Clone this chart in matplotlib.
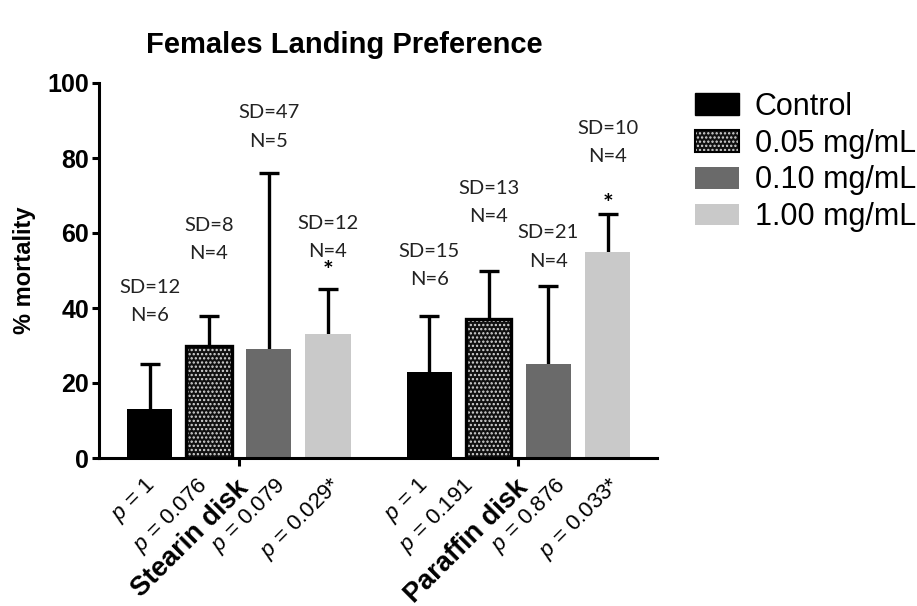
import numpy as np
import matplotlib
matplotlib.use('Agg')
import matplotlib.pyplot as plt
from matplotlib.patches import Patch
from matplotlib.legend_handler import HandlerTuple
from matplotlib.transforms import offset_copy

plt.rcParams['font.family'] = ['Liberation Sans', 'DejaVu Sans']
plt.rcParams['mathtext.fontset'] = 'custom'
plt.rcParams['mathtext.it'] = 'Liberation Sans:italic'
plt.rcParams['mathtext.rm'] = 'Liberation Sans'
plt.rcParams['hatch.linewidth'] = 1.1

# data
groups = ['Stearin disk', 'Paraffin disk']
treatments = ['Control', '0.05 mg/mL', '0.10 mg/mL', '1.00 mg/mL']
mortality = [13, 30, 29, 33, 23, 37, 25, 55]
sd = [12, 8, 47, 12, 15, 13, 21, 10]
n_obs = [6, 4, 5, 4, 6, 4, 4, 4]
p_values = ['1', '0.076', '0.079', '0.029*', '1', '0.191', '0.876', '0.033*']
significant = [False, False, False, True, False, False, False, True]
# where the SD/N text and the stars sit (y, % mortality)
sd_text_y = [45.5, 62, 92, 62.5, 55, 72, 60, 88]
star_y = [None, None, None, 49.7, None, None, None, 67.5]
# sideways nudge of each p label, in pixels
p_nudge = [2, -4, 14, 10, -4, -18, 15, 10]

colors = ['black', '#111111', '#6a6a6a', '#c9c9c9']

fig = plt.figure(figsize=(9.17, 6.06), dpi=100)
ax = fig.add_axes([99 / 917, 148 / 606, 558 / 917, 375 / 606])

x = np.concatenate([np.arange(4), np.arange(4) + 4.7])
w = 0.76

for i, (xi, m, s) in enumerate(zip(x, mortality, sd)):
    k = i % 4
    if k == 1:
        ax.bar(xi, m, w, color=colors[k], edgecolor='#d8d8d8', linewidth=0,
               hatch='....', zorder=2)
        ax.bar(xi, m, w, fill=False, edgecolor='black', linewidth=2.4, zorder=3)
    else:
        ax.bar(xi, m, w, color=colors[k], linewidth=0, zorder=2)
    eb = ax.errorbar(xi, m, yerr=[[0], [s]], fmt='none', ecolor='black',
                     elinewidth=2.4, capsize=7, capthick=2.4, zorder=1)
    # hide the cap sitting on top of the bar
    for cap in eb[1]:
        if np.allclose(cap.get_ydata(), m):
            cap.set_visible(False)
    ax.text(xi, sd_text_y[i], f'SD={s}', ha='center', va='center',
            fontsize=14.5, family='Lato', color='#222222')
    ax.text(xi, sd_text_y[i] - 7.5, f'N={n_obs[i]}', ha='center', va='center',
            fontsize=14.5, family='Lato', color='#222222')
    if significant[i]:
        ax.text(xi, star_y[i], '*', ha='center', va='center',
                fontsize=18, fontweight='bold', family='Lato')
    t = offset_copy(ax.transData, fig=fig, x=p_nudge[i], y=-24, units='dots')
    ax.text(xi, 0, f'$p$ = {p_values[i]}', transform=t, rotation=45,
            ha='right', va='center', rotation_mode='anchor', fontsize=16)

ax.set_xlim(-0.85, 8.53)
ax.set_ylim(0, 100)
ax.set_yticks(np.arange(0, 101, 20))
ax.tick_params(axis='y', labelsize=18, width=2.2, length=5, pad=2)
for lab in ax.get_yticklabels():
    lab.set_fontweight('bold')

group_x = [1.5, 6.2]
ax.set_xticks(group_x)
ax.set_xticklabels([])
ax.tick_params(axis='x', which='major', width=2.2, length=6)

for gx, g in zip(group_x, groups):
    t = offset_copy(ax.transData, fig=fig, x=-3, y=-17, units='dots')
    ax.text(gx, 0, g, transform=t, rotation=45, ha='right', va='top',
            rotation_mode='anchor', fontsize=19.5, fontweight='bold')

for side in ['top', 'right']:
    ax.spines[side].set_visible(False)
for side in ['left', 'bottom']:
    ax.spines[side].set_linewidth(2.2)

ax.set_ylabel('% mortality', fontsize=17, fontweight='bold', labelpad=8)

fig.text(344 / 917, 1 - 45 / 606, 'Females Landing Preference', ha='center',
         va='center', fontsize=21, fontweight='bold')

handles = [
    Patch(facecolor='black', edgecolor='black'),
    (Patch(facecolor='#111111', edgecolor='#d8d8d8', hatch='....', linewidth=0),
     Patch(fill=False, edgecolor='black', linewidth=1.5)),
    Patch(facecolor=colors[2], linewidth=0),
    Patch(facecolor=colors[3], linewidth=0),
]
fig.legend(handles, treatments, loc='upper left',
           bbox_to_anchor=(695 / 917, 1 - 92 / 606), frameon=False,
           fontsize=22, handlelength=1.45, handleheight=0.72,
           handletextpad=0.5, labelspacing=0.22, borderpad=0, borderaxespad=0,
           handler_map={tuple: HandlerTuple(ndivide=1)})

fig.savefig('out.png', dpi=100)
